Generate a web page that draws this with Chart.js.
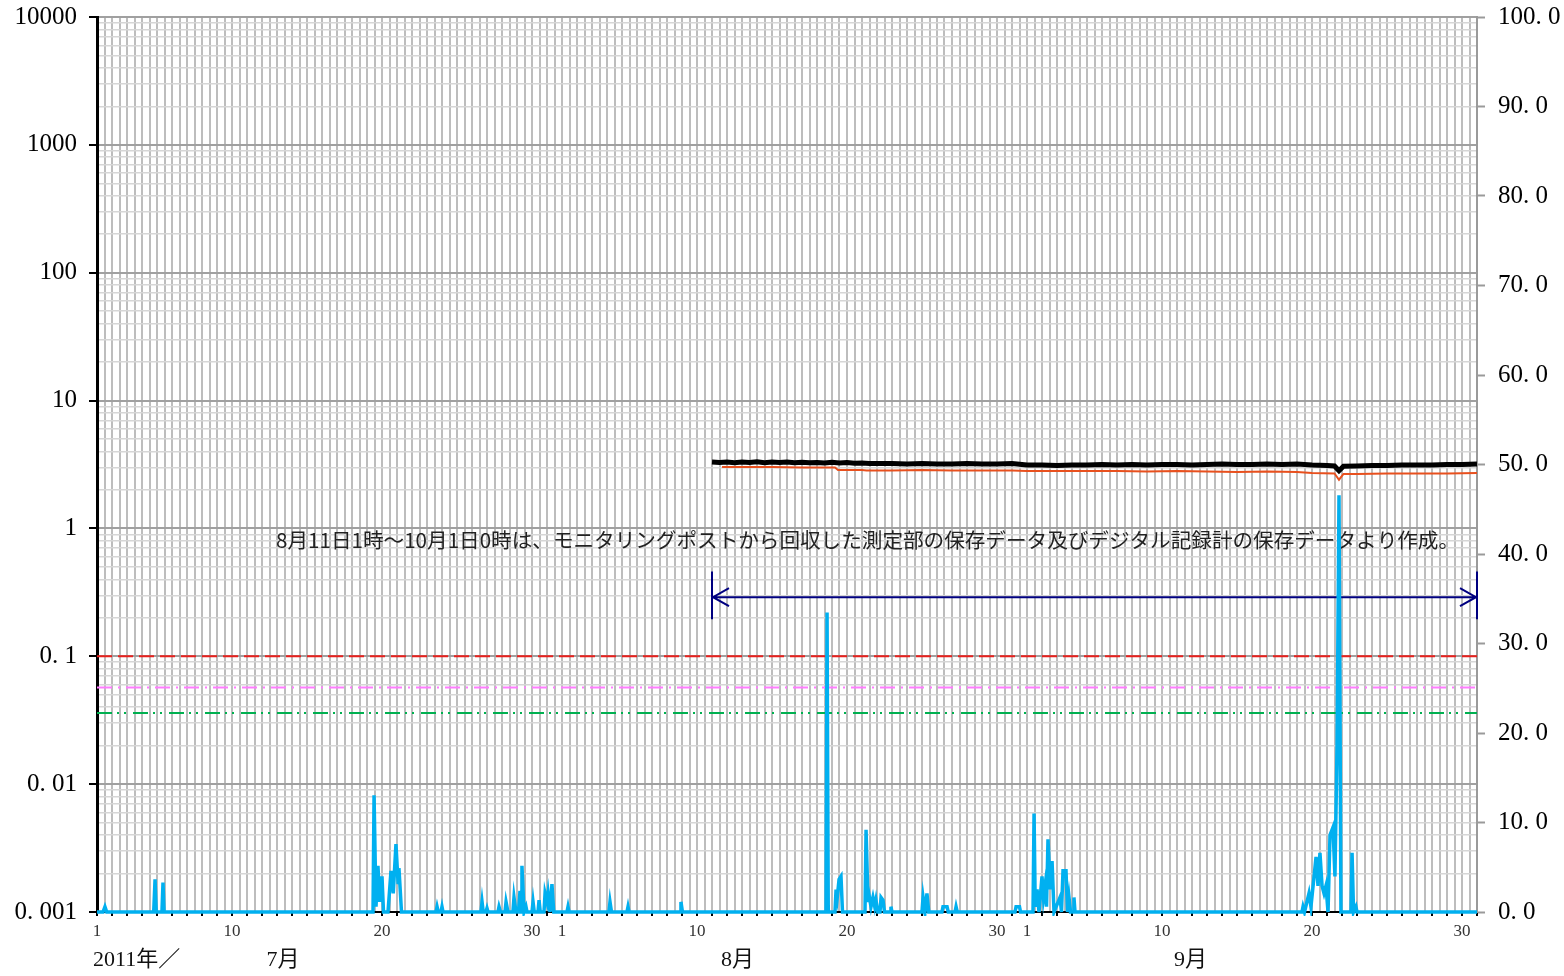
<!DOCTYPE html>
<html>
<head>
<meta charset="utf-8">
<script src="https://cdn.jsdelivr.net/npm/chart.js@4"></script>
<style>
body { margin: 0; background: #fff; }
#wrap { width: 1564px; height: 976px; }
</style>
</head>
<body>
<div id="wrap"><canvas id="chart"></canvas></div>
<script>
// x values are days counted from 2011-07-01 0:00
const monthStarts = [0, 31, 62];
const monthNames = ['7月', '8月', '9月'];
const monthLabelPos = [12.4, 42.7, 72.9];
const labelDays = [1, 10, 20, 30];
const yearLabel = '2011年／';

const decades = [0.001, 0.01, 0.1, 1, 10, 100, 1000, 10000];
const leftLabels = ['0. 001', '0. 01', '0. 1', '1', '10', '100', '1000', '10000'];
const mantissas = [1, 2, 3, 4, 5, 6, 7, 8, 9];
const rightLabels = ['0. 0', '10. 0', '20. 0', '30. 0', '40. 0', '50. 0', '60. 0', '70. 0', '80. 0', '90. 0', '100. 0'];

// blue series (left, log)
const blueDays = [0, 0.4, 0.53, 0.65, 3.78, 3.87, 3.95, 4.33, 4.4, 4.47,
  18.4, 18.47, 18.6, 18.73, 18.85, 19.0, 19.1, 19.4, 19.6, 19.75, 19.93, 20.07, 20.13, 20.3,
  22.6, 22.67, 22.75, 22.93, 23.0, 23.07, 25.6, 25.67, 25.75, 25.93, 26.0, 26.07,
  26.73, 26.8, 26.9, 27.2, 27.27, 27.4, 27.73, 27.8, 27.93, 28.1, 28.2, 28.27, 28.33, 28.47, 28.6, 28.67,
  29.0, 29.07, 29.15, 29.4, 29.47, 29.55, 29.8, 29.87, 30.0, 30.07, 30.2, 30.33, 30.45,
  31.33, 31.4, 31.47, 34.13, 34.2, 34.3, 35.33, 35.4, 35.47, 38.87, 38.93, 39.03,
  48.6, 48.67, 48.75, 49.2, 49.27, 49.35, 49.47, 49.6, 49.7,
  51.2, 51.27, 51.4, 51.47, 51.6, 51.73, 51.85, 51.93, 52.05, 52.2, 52.27, 52.4, 52.5, 52.87, 52.93, 53.0,
  55.0, 55.07, 55.2, 55.33, 55.45, 56.33, 56.4, 56.67, 56.75, 57.2, 57.27, 57.35,
  61.2, 61.27, 61.5, 61.57,
  62.4, 62.47, 62.55, 62.67, 62.8, 63.0, 63.1, 63.2, 63.3, 63.4, 63.55, 63.67, 63.8,
  64.2, 64.3, 64.4, 64.6, 64.7, 64.8, 64.9, 65.07, 65.13, 65.2,
  80.33, 80.4, 80.5, 80.8, 80.93, 81.27, 81.4, 81.53, 81.67, 81.8, 81.93, 82.07,
  82.2, 82.4, 82.53, 82.67, 82.8, 82.93, 83.6, 83.67, 83.77, 83.93, 84.0, 92];
const blueValues = [0.001, 0.001, 0.0011, 0.001, 0.001, 0.0018, 0.001, 0.001, 0.0017, 0.001,
  0.001, 0.0082, 0.0011, 0.0023, 0.0012, 0.0019, 0.001, 0.001, 0.0021, 0.0014, 0.0034, 0.0017, 0.0022, 0.001,
  0.001, 0.0011, 0.001, 0.001, 0.0011, 0.001, 0.001, 0.0012, 0.001, 0.001, 0.00107, 0.001,
  0.001, 0.0011, 0.001, 0.001, 0.0012, 0.001, 0.001, 0.0013, 0.001, 0.001, 0.00146, 0.001, 0.0023, 0.001, 0.0011, 0.001,
  0.001, 0.0012, 0.001, 0.001, 0.00124, 0.001, 0.001, 0.0014, 0.0012, 0.0014, 0.001, 0.00165, 0.001,
  0.001, 0.0011, 0.001, 0.001, 0.0012, 0.001, 0.001, 0.0011, 0.001, 0.001, 0.0012, 0.001,
  0.001, 0.22, 0.001, 0.001, 0.0015, 0.0013, 0.0018, 0.0019, 0.001,
  0.001, 0.0044, 0.0012, 0.00136, 0.0011, 0.0013, 0.0011, 0.00124, 0.001, 0.001, 0.0013, 0.00124, 0.001, 0.001, 0.0011, 0.001,
  0.001, 0.0013, 0.001, 0.0014, 0.001, 0.001, 0.0011, 0.0011, 0.001, 0.001, 0.0011, 0.001,
  0.001, 0.0011, 0.0011, 0.001,
  0.001, 0.0059, 0.0011, 0.0015, 0.001, 0.0019, 0.0013, 0.0016, 0.0011, 0.0037, 0.0015, 0.0025, 0.001,
  0.0013, 0.001, 0.0021, 0.0021, 0.001, 0.0013, 0.001, 0.001, 0.0013, 0.001,
  0.001, 0.0011, 0.001, 0.0014, 0.0011, 0.0027, 0.0016, 0.0029, 0.0016, 0.0014, 0.0016, 0.001,
  0.004, 0.0046, 0.0019, 0.02, 1.82, 0.001, 0.001, 0.0029, 0.001, 0.0011, 0.001, 0.001];

// black and orange series (right axis)
const blackDays = [41, 41.5, 42, 42.5, 43, 43.5, 44, 44.5, 45, 45.5, 46, 46.5, 47, 47.5, 48, 48.5, 49, 49.5,
  50, 50.5, 51, 51.5, 52, 53, 54, 55, 56, 57, 58, 59, 60, 61,
  62, 63, 64, 65, 66, 67, 68, 69, 70, 71, 72, 73, 74, 75, 76, 77, 78, 79, 80, 81, 82, 82.5, 82.8, 83.1,
  84, 85, 86, 87, 88, 89, 90, 91, 92];
const blackValues = [50.28, 50.22, 50.28, 50.2, 50.28, 50.22, 50.3, 50.2, 50.28, 50.22, 50.28, 50.2, 50.26,
  50.2, 50.22, 50.17, 50.24, 50.17, 50.22, 50.15, 50.17, 50.12, 50.11, 50.11,
  50.06, 50.11, 50.06, 50.06, 50.11, 50.06, 50.06, 50.11,
  49.94, 49.94, 49.89, 49.94, 49.94, 50.0, 49.94, 50.0, 49.94, 50.0, 50.0, 49.94, 50.0, 50.06, 50.0, 50.0,
  50.06, 50.0, 50.06, 49.94, 49.89, 49.83, 49.3, 49.8,
  49.83, 49.89, 49.89, 49.94, 49.94, 49.94, 50.0, 50.0, 50.06];
const orangeDays = [41.67, 43, 45, 47, 49.2, 49.4, 51, 51.3, 53, 55, 57, 59, 61, 62, 64, 66, 68, 70, 72,
  74, 76, 78, 80, 81, 82.5, 82.8, 83.1, 84, 86, 88, 90, 92];
const orangeValues = [49.72, 49.72, 49.72, 49.66, 49.66, 49.39, 49.39, 49.33, 49.33, 49.39, 49.33, 49.33,
  49.33, 49.27, 49.27, 49.27, 49.27, 49.22, 49.27, 49.22, 49.16, 49.22, 49.16, 49.05, 49.0, 48.3, 48.95,
  48.94, 49.0, 49.0, 49.0, 49.05];

// reference levels (left axis)
const redLevel = 0.1;
const pinkLevel = 0.057;
const greenLevel = 0.036;

// note and arrow
const noteText = '8月11日1時～10月1日0時は、モニタリングポストから回収した測定部の保存データ及びデジタル記録計の保存データより作成。';
const notePos = [90.8, 0.81];
const arrowRange = [41, 92];
const arrowLevel = 0.29;
const arrowBar = [0.195, 0.46];

function pts(xs, ys) {
  return xs.map((d, i) => ({ x: d, y: ys[i] }));
}

function dayLabel(v) {
  if (!Number.isInteger(v) || v >= 92) return '';
  for (let m = monthStarts.length - 1; m >= 0; m--) {
    if (v >= monthStarts[m]) {
      const d = v - monthStarts[m] + 1;
      return labelDays.includes(d) ? String(d) : '';
    }
  }
  return '';
}

const serif = "'Liberation Serif', 'Noto Sans CJK JP', serif";
const jp = "'Noto Sans CJK JP', sans-serif";

const extras = {
  id: 'extras',
  beforeDatasetsDraw(chart) {
    const ctx = chart.ctx;
    const xs = chart.scales.x, ys = chart.scales.y;
    ctx.save();
    // note
    ctx.font = '20.6px ' + jp;
    ctx.fillStyle = '#222';
    ctx.textAlign = 'right';
    ctx.textBaseline = 'middle';
    ctx.fillText(noteText, xs.getPixelForValue(notePos[0]), ys.getPixelForValue(notePos[1]));
    // arrow
    const x1 = xs.getPixelForValue(arrowRange[0]);
    const x2 = xs.getPixelForValue(arrowRange[1]);
    const ay = ys.getPixelForValue(arrowLevel);
    const t = ys.getPixelForValue(arrowBar[1]);
    const b = ys.getPixelForValue(arrowBar[0]);
    ctx.strokeStyle = '#000080';
    ctx.lineWidth = 2;
    ctx.beginPath();
    ctx.moveTo(x1, ay); ctx.lineTo(x2, ay);
    ctx.moveTo(x1, t); ctx.lineTo(x1, b);
    ctx.moveTo(x2, t); ctx.lineTo(x2, b);
    ctx.moveTo(x1 + 17, ay - 9); ctx.lineTo(x1 + 1, ay); ctx.lineTo(x1 + 17, ay + 9);
    ctx.moveTo(x2 - 17, ay - 9); ctx.lineTo(x2 - 1, ay); ctx.lineTo(x2 - 17, ay + 9);
    ctx.stroke();
    ctx.restore();
  },
  afterDraw(chart) {
    const ctx = chart.ctx;
    const xs = chart.scales.x;
    const base = chart.chartArea.bottom + 48;
    ctx.save();
    ctx.font = '22px ' + serif;
    ctx.fillStyle = '#111';
    ctx.textBaseline = 'middle';
    ctx.textAlign = 'left';
    ctx.fillText(yearLabel, xs.getPixelForValue(0) - 4, base);
    ctx.textAlign = 'center';
    monthNames.forEach((m, i) => ctx.fillText(m, xs.getPixelForValue(monthLabelPos[i]), base));
    ctx.restore();
  }
};

const lineBase = { pointRadius: 0, tension: 0, fill: false, clip: 4 };

function noPad(s) {
  s.paddingTop = 0;
  s.paddingBottom = 0;
}

new Chart(document.getElementById('chart'), {
  type: 'line',
  data: {
    datasets: [
      Object.assign({ data: pts([0, 92], [redLevel, redLevel]), yAxisID: 'y', borderColor: '#e8201c',
        borderWidth: 2, borderDash: [15, 6], order: 5 }, lineBase),
      Object.assign({ data: pts([0, 92], [pinkLevel, pinkLevel]), yAxisID: 'y', borderColor: '#ff7cff',
        borderWidth: 2, borderDash: [15, 6, 2, 6], order: 5 }, lineBase),
      Object.assign({ data: pts([0, 92], [greenLevel, greenLevel]), yAxisID: 'y', borderColor: '#00b050',
        borderWidth: 2, borderDash: [15, 5, 2, 5, 2, 7], order: 5 }, lineBase),
      Object.assign({ data: pts(blueDays, blueValues), yAxisID: 'y', borderColor: '#00b0f0',
        borderWidth: 3.5, order: 3 }, lineBase),
      Object.assign({ data: pts(orangeDays, orangeValues), yAxisID: 'y2', borderColor: '#e8501e',
        borderWidth: 2, order: 2 }, lineBase),
      Object.assign({ data: pts(blackDays, blackValues), yAxisID: 'y2', borderColor: '#000',
        borderWidth: 5, order: 1 }, lineBase)
    ]
  },
  options: {
    responsive: true,
    maintainAspectRatio: false,
    animation: false,
    layout: { padding: { top: 17 } },
    plugins: { legend: { display: false }, tooltip: { enabled: false } },
    scales: {
      x: {
        type: 'linear', min: 0, max: 92,
        afterFit: (s) => { s.height = 64; },
        border: { color: '#000', width: 2 },
        grid: {
          color: '#bdbdbd', lineWidth: 2, tickLength: 4,
          tickColor: (c) => Number.isInteger(c.tick.value) ? '#000' : 'rgba(0,0,0,0)', tickWidth: 2
        },
        ticks: {
          stepSize: 0.5, autoSkip: false, maxRotation: 0, minRotation: 0, padding: 5,
          color: '#333', font: { family: serif, size: 17 },
          callback: (v) => dayLabel(v)
        }
      },
      y: {
        type: 'logarithmic', position: 'left', min: 0.001, max: 10000,
        afterFit: (s) => { s.width = 97; noPad(s); },
        afterBuildTicks: (s) => {
          const t = [];
          decades.forEach((d, i) => {
            if (i === decades.length - 1) { t.push({ value: d, major: true }); return; }
            mantissas.forEach((m) => t.push({ value: m * d, major: m === 1 }));
          });
          s.ticks = t;
        },
        border: { color: '#000', width: 3 },
        grid: {
          color: (c) => c.tick && c.tick.major ? '#a0a0a0' : '#d6d6d6',
          lineWidth: (c) => c.tick && c.tick.major ? 2 : 1.5,
          tickLength: 8,
          tickColor: (c) => c.tick && c.tick.major ? '#000' : 'rgba(0,0,0,0)',
          tickWidth: 2
        },
        ticks: {
          autoSkip: false, padding: 12, color: '#000', font: { family: serif, size: 25 },
          callback: (v) => {
            const i = decades.findIndex((d) => Math.abs(v / d - 1) < 1e-6);
            return i >= 0 ? leftLabels[i] : '';
          }
        }
      },
      y2: {
        type: 'linear', position: 'right', min: 0, max: 100,
        afterFit: (s) => { s.width = 87; noPad(s); },
        border: { color: '#9a9a9a', width: 2 },
        grid: { drawOnChartArea: false, tickLength: 8, tickColor: '#9a9a9a', tickWidth: 2 },
        ticks: {
          stepSize: 10, padding: 13, color: '#000', font: { family: serif, size: 25 },
          callback: (v) => rightLabels[Math.round(v / 10)]
        }
      }
    }
  },
  plugins: [extras]
});
</script>
</body>
</html>
